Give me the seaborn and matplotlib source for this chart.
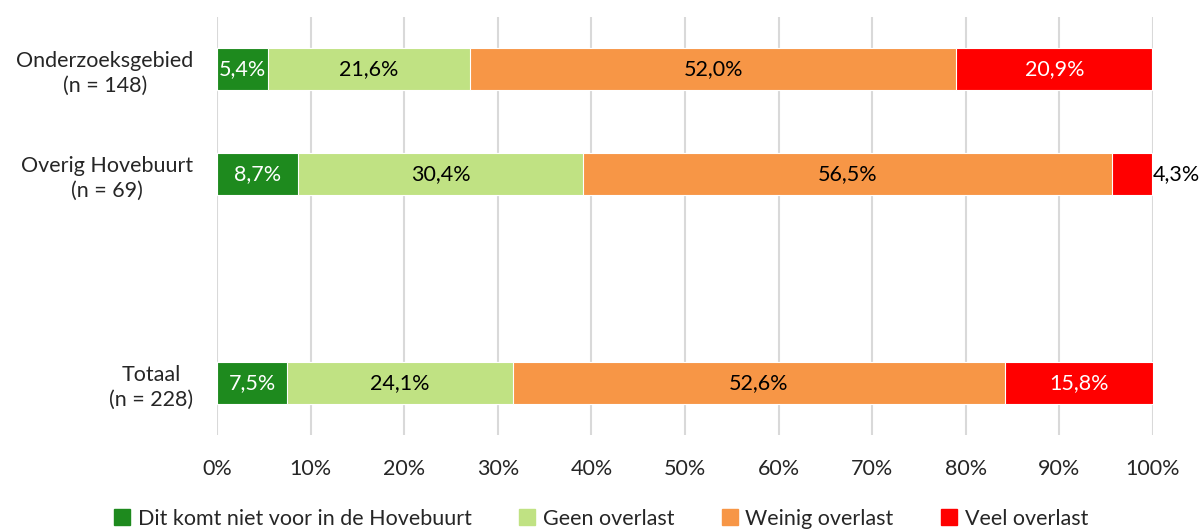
import numpy as np
import pandas as pd
import matplotlib
matplotlib.use('Agg')
import matplotlib.pyplot as plt
import seaborn as sns

# data
groups = ['Onderzoeksgebied\n(n = 148)', 'Overig Hovebuurt\n(n = 69)', ' ', 'Totaal\n(n = 228)']
series = ['Dit komt niet voor in de Hovebuurt', 'Geen overlast', 'Weinig overlast', 'Veel overlast']
niet_voor = [5.4, 8.7, np.nan, 7.5]
geen = [21.6, 30.4, np.nan, 24.1]
weinig = [52.0, 56.5, np.nan, 52.6]
veel = [20.9, 4.3, np.nan, 15.8]
colors = ['#1E8A1E', '#C0E283', '#F79646', '#FF0000']
text_colors = ['white', 'black', 'black', 'white']

sns.set_theme(style='white')
plt.rcParams['font.family'] = ['Lato', 'DejaVu Sans']
FS = 15.5

values = [niet_voor, geen, weinig, veel]
cum = np.nancumsum(np.array(values, dtype=float), axis=0)
cum[:, 2] = np.nan

fig = plt.figure(figsize=(12.02, 5.32), dpi=100)
ax = fig.add_axes([217 / 1202, 1 - 435 / 532, (1153 - 217) / 1202, (435 - 17) / 532])

# draw stacked bars from the back (total) to the front
for i in range(len(series) - 1, -1, -1):
    df = pd.DataFrame({'group': groups, 'value': cum[i] / 100})
    sns.barplot(data=df, x='value', y='group', order=groups, color=colors[i],
                width=0.4, orient='h', ax=ax, edgecolor='white', linewidth=0.8,
                saturation=1, zorder=3)

# labels in segments
for i, vals in enumerate(values):
    for j, v in enumerate(vals):
        if np.isnan(v):
            continue
        right = cum[i][j] / 100
        left = right - v / 100
        txt = f'{v:.1f}%'.replace('.', ',')
        if v < 5:
            ax.text(right + 0.0005, j, txt, ha='left', va='center', fontsize=FS, color='black', zorder=4)
        else:
            ax.text((left + right) / 2, j, txt, ha='center', va='center', fontsize=FS,
                    color=text_colors[i], zorder=4)

ax.set_xlim(0, 1)
ax.set_ylim(3.5, -0.5)
ax.set_xticks(np.arange(0, 1.01, 0.1))
ax.set_xticklabels([f'{int(round(t * 100))}%' for t in np.arange(0, 1.01, 0.1)], fontsize=FS)
ax.xaxis.grid(True, color='#D9D9D9', linewidth=1.5, zorder=0)
ax.set_axisbelow(True)
ax.set_xlabel('')
ax.set_ylabel('')
ax.tick_params(axis='x', length=0, pad=17)
ax.tick_params(axis='y', length=0, pad=17)
for t in ax.get_yticklabels():
    t.set_fontsize(FS)
    t.set_multialignment('center')
    t.set_linespacing(1.3)
for s in ax.spines.values():
    s.set_visible(False)

handles = [plt.Rectangle((0, 0), 1, 1, color=c) for c in colors]
fig.legend(handles, series, loc='lower center', ncol=4, frameon=False, fontsize=FS,
           bbox_to_anchor=(0.5, -0.03), handlelength=0.75, handleheight=0.75,
           handletextpad=0.35, columnspacing=2.2)

fig.savefig('out.png', dpi=100)
